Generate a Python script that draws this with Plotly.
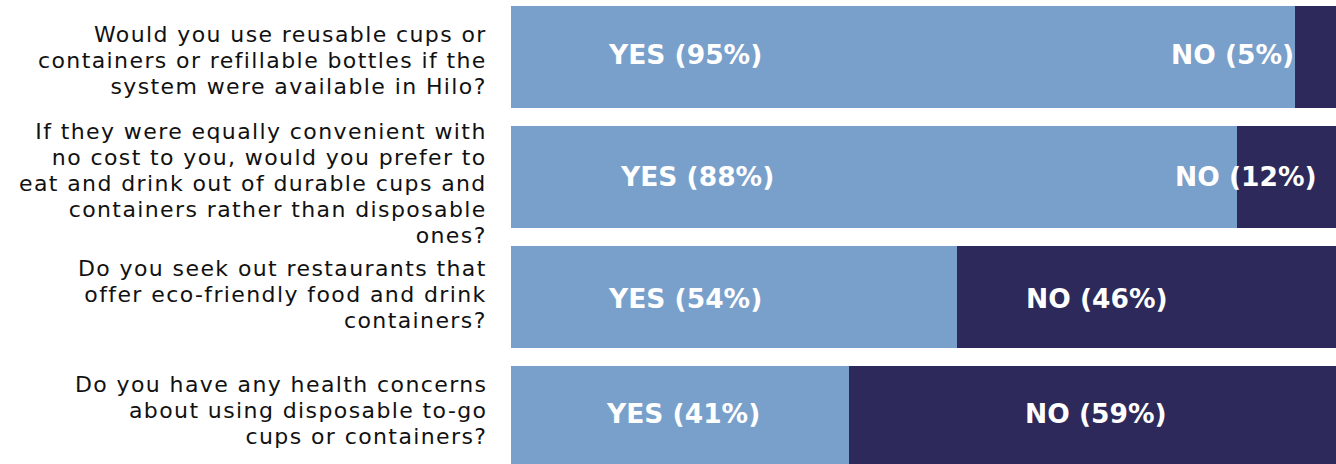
import plotly.graph_objects as go

# Survey questions (line breaks as laid out beside each bar)
questions = [
    "Would you use reusable cups or<br>containers or refillable bottles if the<br>system were available in Hilo?",
    "If they were equally convenient with<br>no cost to you, would you prefer to<br>eat and drink out of durable cups and<br>containers rather than disposable<br>ones?",
    "Do you seek out restaurants that<br>offer eco-friendly food and drink<br>containers?",
    "Do you have any health concerns<br>about using disposable to-go<br>cups or containers?",
]
yes_pct = [95, 88, 54, 41]
no_pct = [5, 12, 46, 59]

# Label placement (x in percent units, vertical nudges in px; positive = down)
yes_label_x = [21.1, 22.5, 21.1, 20.8]
no_label_x = [87.4, 89.1, 71.0, 70.9]
label_nudge = [-3, -1, 1, -4]
question_nudge = [3, 6, -2.5, -7]

LIGHT = "#79a0cb"
DARK = "#2d2a5b"
FONT = "DejaVu Sans"
# Tight leading: the text element's base size sets the line pitch (1.3 em = 26 px),
# each line's glyphs use a slightly larger, letter-spaced inline span.
BASE_SIZE = 20
GLYPH_SIZE = 22
TRACKING = "1.4px"

cats = list(range(len(questions)))

fig = go.Figure()
fig.add_trace(go.Bar(y=cats, x=yes_pct, orientation="h", marker=dict(color=LIGHT, line=dict(width=0)),
                     width=0.842, hoverinfo="skip", showlegend=False))
fig.add_trace(go.Bar(y=cats, x=no_pct, orientation="h", marker=dict(color=DARK, line=dict(width=0)),
                     width=0.842, hoverinfo="skip", showlegend=False))

annotations = []
for i, q in enumerate(questions):
    styled = "<br>".join(
        f'<span style="font-size:{GLYPH_SIZE}px;letter-spacing:{TRACKING}">{ln}</span>'
        for ln in q.split("<br>")
    )
    annotations.append(dict(
        x=0, xref="paper", y=cats[i], yref="y", text=styled, showarrow=False,
        xanchor="right", yanchor="middle", align="right", xshift=-22, yshift=-question_nudge[i],
        font=dict(family=FONT, size=BASE_SIZE, color="#111111"),
    ))
    annotations.append(dict(
        x=yes_label_x[i], y=cats[i], text=f"YES ({yes_pct[i]}%)", showarrow=False,
        xanchor="center", yanchor="middle", yshift=-label_nudge[i],
        font=dict(family=FONT, size=26.5, color="white", weight="bold"),
    ))
    annotations.append(dict(
        x=no_label_x[i], y=cats[i], text=f"NO ({no_pct[i]}%)", showarrow=False,
        xanchor="center", yanchor="middle", yshift=-label_nudge[i],
        font=dict(family=FONT, size=26.5, color="white", weight="bold"),
    ))

fig.update_layout(
    barmode="stack",
    width=1336, height=464,
    margin=dict(l=511, r=0, t=0, b=0, pad=0),
    paper_bgcolor="white", plot_bgcolor="white",
    xaxis=dict(range=[0, 100], showgrid=False, zeroline=False, showticklabels=False,
               showline=False, fixedrange=True),
    yaxis=dict(range=[3.3917, -0.475], showgrid=False, zeroline=False, showticklabels=False,
               showline=False, fixedrange=True),
    annotations=annotations,
)

fig.write_html("out.html", config={"displayModeBar": False})
